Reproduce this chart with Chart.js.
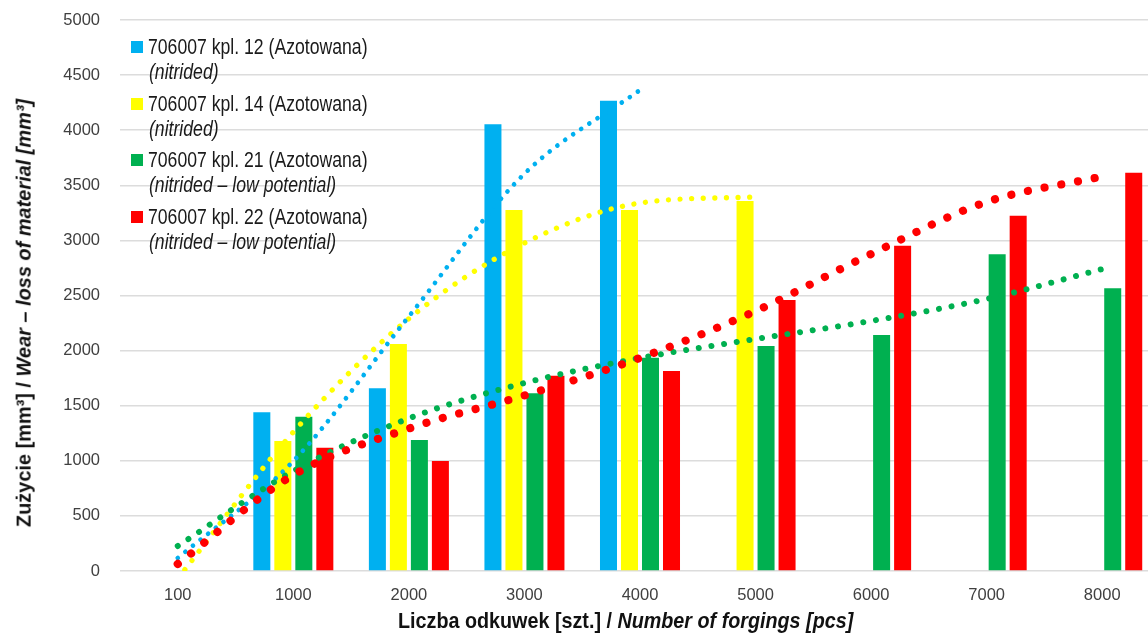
<!DOCTYPE html>
<html>
<head>
<meta charset="utf-8">
<script src="https://cdn.jsdelivr.net/npm/chart.js@4.4.1/dist/chart.umd.min.js"></script>
<style>
  html, body { margin:0; padding:0; width:1148px; height:637px; overflow:hidden; background:#ffffff; }
  #wrap { position:absolute; left:0; top:0; width:1160px; height:637px; }
  .nar { font-family:"Liberation Sans", Arial, sans-serif; }
  .leg { position:absolute; white-space:nowrap; color:#1a1a1a; font-size:21.5px; line-height:24px;
         transform-origin:0 50%; transform:scaleX(0.82); }
  .sw { position:absolute; width:12px; height:12px; }
  #ytitle, #xtitle { position:absolute; white-space:nowrap; font-weight:bold; color:#111; line-height:26px; }
  #ytitle { font-size:21px; }
  #xtitle { font-size:22px; }
</style>
</head>
<body>
<div id="wrap"><canvas id="c" width="1160" height="637"></canvas></div>
<div id="legend"></div>
<div id="ytitle" class="nar">Zużycie [mm³] / <i>Wear – loss of material [mm³]</i></div>
<div id="xtitle" class="nar">Liczba odkuwek [szt.] / <i>Number of forgings [pcs]</i></div>
<script>
// ---- data ----
const categories = ['100','1000','2000','3000','4000','5000','6000','7000','8000'];
const seriesNames = ['706007 kpl. 12 (Azotowana)','706007 kpl. 14 (Azotowana)','706007 kpl. 21 (Azotowana)','706007 kpl. 22 (Azotowana)'];
const seriesNotes = ['(nitrided)','(nitrided)','(nitrided – low potential)','(nitrided – low potential)'];
const kpl12 = [null, 1440, 1658, 4053, 4268, null, null, null, null];
const kpl14 = [null, 1180, 2060, 3276, 3276, 3357, null, null, null];
const kpl21 = [null, 1400, 1189, 1612, 1936, 2042, 2142, 2874, 2565];
const kpl22 = [null, 1119, 998, 1772, 1815, 2459, 2952, 3224, 3614];
// trend lines read at category positions
const trend12 = [118, 998, 2310, 3605, 4365, null, null, null, null];
const trend14 = [-70, 1261, 2290, 2976, 3339, 3394, null, null, null];
const trend21 = [227, 907, 1385, 1706, 1933, 2105, 2269, 2468, 2740];
const trend22 = [64, 871, 1293, 1593, 1933, 2359, 2877, 3349, 3580];
const yTicks = [0, 500, 1000, 1500, 2000, 2500, 3000, 3500, 4000, 4500, 5000];

const colors = ['#00b0f0', '#ffff00', '#00b050', '#ff0000'];
const barSeries = [kpl12, kpl14, kpl21, kpl22];
const trendSeries = [trend12, trend14, trend21, trend22];
const dotW = [4.7, 5.3, 6, 8.2];
const dotPitch = [9.7, 11.6, 12.8, 17];
const lineOrder = [3, 4, 2, 1];

const datasets = [];
barSeries.forEach((d, i) => datasets.push({
  type: 'bar', label: seriesNames[i], data: d, backgroundColor: colors[i],
  borderWidth: 0, categoryPercentage: 0.727, barPercentage: 0.81, order: 10
}));
trendSeries.forEach((d, i) => datasets.push({
  type: 'line', label: 'trend ' + seriesNames[i], data: d, borderColor: colors[i],
  backgroundColor: colors[i], borderWidth: dotW[i], borderDash: [0.01, dotPitch[i]],
  borderCapStyle: 'round', pointRadius: 0, fill: false,
  cubicInterpolationMode: 'monotone', order: lineOrder[i]
}));

new Chart(document.getElementById('c'), {
  type: 'bar',
  data: { labels: categories, datasets },
  options: {
    responsive: false, animation: false, devicePixelRatio: 1,
    layout: { padding: { top: 20, right: 0, left: 0, bottom: 0 } },
    plugins: { legend: { display: false }, tooltip: { enabled: false } },
    scales: {
      x: {
        offset: true,
        grid: { display: false, drawTicks: false },
        border: { display: false },
        ticks: { padding: 15, color: '#404040', font: { family: 'Liberation Sans', size: 16.5 } },
        afterFit: s => { s.height = 66; s.paddingLeft = 0; s.paddingRight = 0; }
      },
      y: {
        min: 0, max: 5000,
        afterBuildTicks: s => { s.ticks = yTicks.map(v => ({ value: v })); },
        grid: { color: '#dcdcdc', lineWidth: 1.5, drawTicks: false },
        border: { display: false },
        ticks: { padding: 20, color: '#404040', font: { family: 'Liberation Sans', size: 16.5 },
                 callback: v => String(v) },
        afterFit: s => { s.width = 120; s.paddingTop = 0; s.paddingBottom = 0; }
      }
    }
  }
});

// ---- legend (HTML) ----
const leg = document.getElementById('legend');
const lineY = [47, 104, 160, 217];
seriesNames.forEach((n, i) => {
  const sw = document.createElement('div');
  sw.className = 'sw'; sw.style.left = '131px'; sw.style.top = (lineY[i] - 6) + 'px';
  sw.style.background = colors[i]; leg.appendChild(sw);
  const t1 = document.createElement('div');
  t1.className = 'leg nar'; t1.style.left = '148px'; t1.style.top = (lineY[i] - 12) + 'px';
  t1.textContent = n; leg.appendChild(t1);
  const t2 = document.createElement('div');
  t2.className = 'leg nar'; t2.style.left = '149px'; t2.style.top = (lineY[i] + 25 - 12) + 'px';
  t2.style.fontStyle = 'italic'; t2.textContent = seriesNotes[i]; leg.appendChild(t2);
});

// ---- axis titles: condensed to the reference's narrow face ----
function place(el, cx, cy, targetLen, rot) {
  const w = el.offsetWidth, h = el.offsetHeight;
  const k = targetLen / w;
  el.style.left = (cx - w / 2) + 'px';
  el.style.top = (cy - h / 2) + 'px';
  el.style.transformOrigin = '50% 50%';
  el.style.transform = (rot ? 'rotate(-90deg) ' : '') + 'scaleX(' + k + ')';
}
place(document.getElementById('ytitle'), 23, 313, 428, true);
place(document.getElementById('xtitle'), 625, 621, 455, false);
</script>
</body>
</html>
